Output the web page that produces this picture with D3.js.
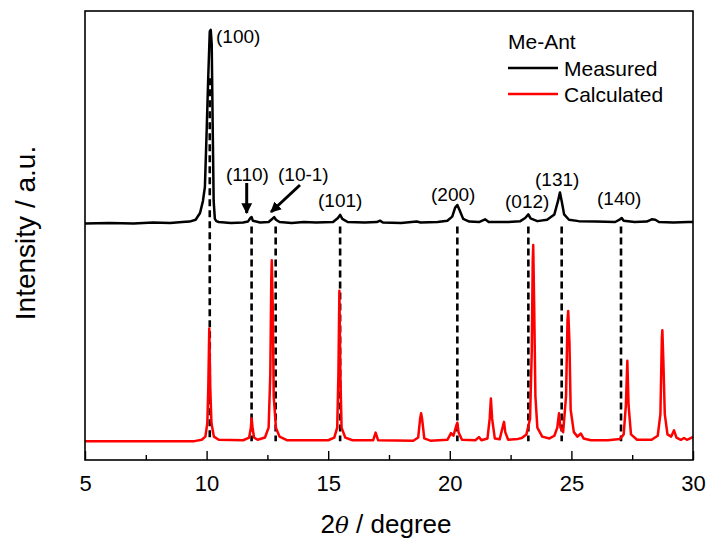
<!DOCTYPE html>
<html>
<head>
<meta charset="utf-8">
<script src="https://cdn.jsdelivr.net/npm/d3@7"></script>
<style>
  body { margin: 0; background: #fff; }
  svg { font-family: "Liberation Sans", Arial, sans-serif; }
</style>
</head>
<body>
<div id="chart"></div>
<script>
// measured pattern, [2theta, intensity above its own baseline]
var measured = [
  [5, 0], [6, 0.1], [7, 0], [7.8, 0.2], [8.5, 0.1], [9.0, 0.3], [9.3, 0.4], [9.55, 0.8], [9.73, 2.3],
  [9.85, 5], [9.93, 8.1], [10.0, 20.2], [10.07, 33], [10.13, 42.7], [10.17, 43.1], [10.21, 40],
  [10.25, 22], [10.29, 5], [10.34, 1], [10.4, 0.5], [10.5, 0.3], [11.0, 0.1], [11.5, 0.2],
  [11.7, 0.4], [11.8, 1.2], [11.85, 1.4], [11.9, 0.6], [12.2, 0.2], [12.55, 0.3], [12.72, 1.1],
  [12.78, 1.4], [12.85, 0.8], [13.0, 0.3], [13.5, 0.1], [14, 0.3], [14.5, 0.2], [15.2, 0.3],
  [15.4, 1.2], [15.49, 1.9], [15.58, 1], [15.8, 0.3], [16.5, 0.2], [17.0, 0.3], [17.13, 0.6],
  [17.25, 0.2], [18.0, 0.1], [18.64, 0.4], [18.8, 0.2], [19.5, 0.3], [19.9, 0.6], [20.1, 1.5],
  [20.22, 3.5], [20.31, 4.1], [20.4, 3], [20.55, 1], [20.8, 0.4], [21.2, 0.3], [21.45, 0.9],
  [21.6, 0.3], [22.4, 0.3], [22.9, 0.5], [23.1, 1.2], [23.23, 2.0], [23.32, 1.1], [23.6, 0.5],
  [24.0, 0.8], [24.3, 2], [24.45, 5], [24.53, 6.9], [24.6, 5], [24.7, 2], [24.9, 0.8], [25.3, 0.5],
  [26.0, 0.4], [26.8, 0.3], [27.0, 0.9], [27.07, 1.2], [27.15, 0.6], [27.6, 0.3], [28.1, 0.4],
  [28.3, 0.9], [28.45, 0.8], [28.6, 0.3], [29.2, 0.2], [29.8, 0.3], [30, 0.3]
];

// calculated pattern
var calculated = [
  [5, 0], [9.5, 0], [9.8, 0.3], [9.95, 1], [10.03, 4], [10.07, 12], [10.11, 25.1], [10.15, 12],
  [10.2, 4], [10.3, 1], [10.5, 0.3], [11.5, 0.2], [11.75, 0.8], [11.82, 3], [11.85, 5.1], [11.89, 3],
  [11.95, 0.8], [12.1, 0.3], [12.4, 0.8], [12.55, 3], [12.62, 15], [12.66, 36], [12.68, 40.3],
  [12.72, 30], [12.76, 10], [12.85, 3], [13.0, 1], [13.3, 0.2], [15.0, 0.2], [15.25, 0.8],
  [15.37, 3], [15.42, 15], [15.46, 33.5], [15.5, 15], [15.55, 3], [15.7, 0.8], [16.0, 0.2],
  [16.85, 0.2], [16.95, 1.9], [17.05, 0.2], [18.5, 0.1], [18.7, 0.8], [18.78, 5], [18.82, 6.2],
  [18.86, 5], [18.95, 0.6], [19.2, 0.1], [19.9, 0.3], [20.05, 1.8], [20.15, 1.2], [20.27, 3.5],
  [20.31, 4.1], [20.36, 2], [20.5, 0.3], [21.05, 0.2], [21.2, 0.9], [21.3, 0.2], [21.55, 0.6],
  [21.64, 5], [21.69, 9.5], [21.74, 5], [21.85, 0.6], [22.05, 0.4], [22.19, 3.5], [22.23, 4.3],
  [22.28, 2], [22.4, 0.3], [22.8, 0.5], [22.96, 0.7], [23.15, 1.5], [23.3, 5], [23.37, 20],
  [23.41, 40], [23.43, 43.7], [23.47, 30], [23.52, 10], [23.6, 3], [23.8, 1], [24.1, 0.6],
  [24.3, 1.2], [24.42, 3], [24.49, 6.2], [24.55, 3], [24.66, 2], [24.78, 10], [24.84, 27],
  [24.87, 29], [24.92, 22], [24.97, 7], [25.1, 2], [25.25, 1], [25.39, 1.7], [25.5, 0.6],
  [25.8, 0.2], [26.5, 0.2], [27.0, 0.5], [27.15, 1.5], [27.24, 8], [27.3, 17.9], [27.35, 8],
  [27.45, 1.5], [27.7, 0.3], [28.3, 0.3], [28.55, 1.2], [28.66, 6], [28.72, 23], [28.74, 24.7],
  [28.78, 18], [28.84, 6], [28.95, 1.5], [29.1, 1], [29.22, 2.4], [29.32, 0.8], [29.5, 0.3],
  [29.63, 0.7], [29.75, 0.3], [29.95, 0.8], [30, 1]
];

var measuredOffset = 52.7;
var calculatedOffset = 4.2;

// reflections marked with dashed lines
var hklLabels = ["(100)", "(110)", "(10-1)", "(101)", "(200)", "(012)", "(131)", "(140)"];
var hklPos = [10.13, 11.85, 12.84, 15.49, 20.31, 23.23, 24.6, 27.04];
var hklTop = [85, 52, 52, 52, 52, 52, 52, 52];

var xTicks = [5, 10, 15, 20, 25, 30];
var xMinor = [7.5, 12.5, 17.5, 22.5, 27.5];

var width = 708, height = 540;
var margin = { top: 11, right: 15, bottom: 80, left: 85 };
var x0 = margin.left, x1 = width - margin.right;
var y0 = margin.top, y1 = height - margin.bottom;

var svg = d3.select("#chart").append("svg")
    .attr("width", width)
    .attr("height", height);

var x = d3.scaleLinear().domain([5, 30]).range([x0, x1]);
var y = d3.scaleLinear().domain([0, 100]).range([y1, y0]);

// dashed guide lines
svg.append("g").selectAll("line")
    .data(hklPos)
    .enter().append("line")
    .attr("x1", function (d) { return x(d); })
    .attr("x2", function (d) { return x(d); })
    .attr("y1", function (d, i) { return y(hklTop[i]); })
    .attr("y2", y(calculatedOffset))
    .attr("stroke", "#000")
    .attr("stroke-width", 2.6)
    .attr("stroke-dasharray", "7,4");

var line = function (offset) {
    return d3.line()
        .x(function (d) { return x(d[0]); })
        .y(function (d) { return y(d[1] + offset); });
};

svg.append("path")
    .datum(calculated)
    .attr("fill", "none")
    .attr("stroke", "#ff0000")
    .attr("stroke-width", 2.5)
    .attr("stroke-linejoin", "round")
    .attr("d", line(calculatedOffset));

svg.append("path")
    .datum(measured)
    .attr("fill", "none")
    .attr("stroke", "#000")
    .attr("stroke-width", 2.5)
    .attr("stroke-linejoin", "round")
    .attr("d", line(measuredOffset));

// axes
svg.append("g")
    .attr("transform", "translate(0," + y1 + ")")
    .call(d3.axisBottom(x).tickValues(xTicks).tickSize(-9).tickPadding(15))
    .call(function (g) {
        g.select(".domain").remove();
        g.selectAll(".tick line").attr("stroke-width", 1.4);
        g.selectAll(".tick text").attr("font-size", 22).attr("fill", "#000")
            .attr("font-family", "Liberation Sans, Arial, sans-serif");
    });
svg.append("g")
    .attr("transform", "translate(0," + y1 + ")")
    .call(d3.axisBottom(x).tickValues(xMinor).tickSize(-5).tickFormat(""))
    .call(function (g) {
        g.select(".domain").remove();
        g.selectAll(".tick line").attr("stroke-width", 1.4);
    });

svg.append("rect")
    .attr("x", x0).attr("y", y0)
    .attr("width", x1 - x0).attr("height", y1 - y0)
    .attr("fill", "none")
    .attr("stroke", "#000")
    .attr("stroke-width", 1.6);

// axis titles
var xt = svg.append("text")
    .attr("x", (x0 + x1) / 2 - 3)
    .attr("y", 533)
    .attr("text-anchor", "middle")
    .attr("font-size", 26);
xt.append("tspan").text("2");
xt.append("tspan").attr("font-style", "italic").attr("font-family", "DejaVu Serif, serif").attr("font-size", 23).text("\u03B8");
xt.append("tspan").text(" / degree");

svg.append("text")
    .attr("transform", "translate(35,233) rotate(-90)")
    .attr("text-anchor", "middle")
    .attr("font-size", 28)
    .text("Intensity / a.u.");

// peak labels
var labelPos = [[216, 43], [226, 181], [278, 181], [318, 207], [431, 201], [505, 208], [535, 186], [597, 205]];
svg.append("g").selectAll("text")
    .data(hklLabels)
    .enter().append("text")
    .attr("x", function (d, i) { return labelPos[i][0]; })
    .attr("y", function (d, i) { return labelPos[i][1]; })
    .attr("font-size", 19)
    .text(function (d) { return d; });

// arrows
var defs = svg.append("defs");
defs.append("marker")
    .attr("id", "head")
    .attr("viewBox", "0 0 10 10")
    .attr("refX", 9).attr("refY", 5)
    .attr("markerWidth", 3.6).attr("markerHeight", 3.6)
    .attr("markerUnits", "strokeWidth")
    .attr("orient", "auto")
    .append("path")
    .attr("d", "M0,0 L10,5 L0,10 z")
    .attr("fill", "#000");

svg.append("line")
    .attr("x1", 246.7).attr("y1", 183)
    .attr("x2", 246.7).attr("y2", 213)
    .attr("stroke", "#000").attr("stroke-width", 3)
    .attr("marker-end", "url(#head)");
svg.append("line")
    .attr("x1", 300).attr("y1", 185)
    .attr("x2", 271).attr("y2", 212)
    .attr("stroke", "#000").attr("stroke-width", 3)
    .attr("marker-end", "url(#head)");

// legend
var legend = svg.append("g");
legend.append("text")
    .attr("x", 508).attr("y", 49)
    .attr("font-size", 21)
    .text("Me-Ant");
var legendItems = [["Measured", "#000"], ["Calculated", "#ff0000"]];
legendItems.forEach(function (d, i) {
    var ly = 68 + i * 26;
    legend.append("line")
        .attr("x1", 508).attr("x2", 558)
        .attr("y1", ly).attr("y2", ly)
        .attr("stroke", d[1]).attr("stroke-width", 2.4);
    legend.append("text")
        .attr("x", 564).attr("y", ly + 7.5)
        .attr("font-size", 21)
        .text(d[0]);
});
</script>
</body>
</html>
